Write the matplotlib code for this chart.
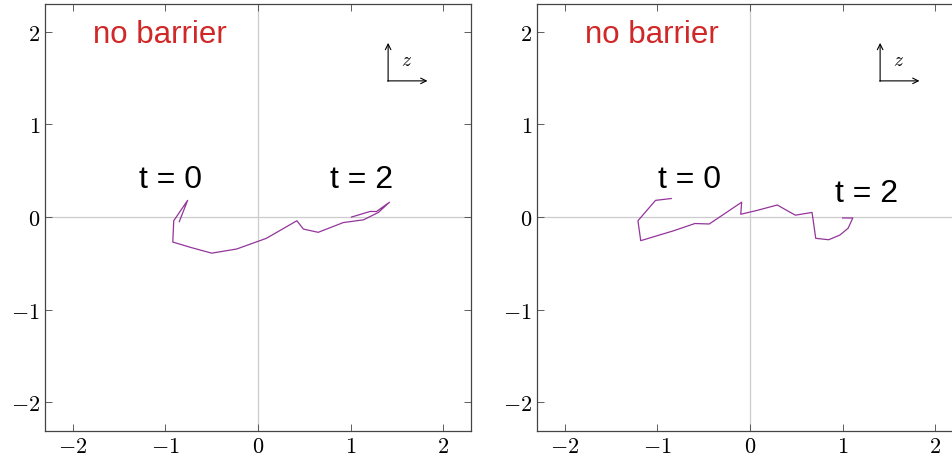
import matplotlib
matplotlib.use("Agg")
import matplotlib.pyplot as plt

plt.rcParams['mathtext.fontset'] = 'cm'

# trajectories
left_x = [-0.85, -0.76, -0.91, -0.92, -0.72, -0.50, -0.23, 0.09, 0.42, 0.49,
          0.65, 0.92, 1.14, 1.30, 1.42, 1.28, 1.21, 1.01]
left_y = [-0.05, 0.18, -0.04, -0.27, -0.33, -0.39, -0.345, -0.23, -0.04, -0.13,
          -0.165, -0.06, -0.03, 0.05, 0.16, 0.06, 0.06, 0.0]

right_x = [-0.85, -1.02, -1.21, -1.18, -0.83, -0.595, -0.44, -0.09, -0.10, 0.07,
           0.295, 0.40, 0.49, 0.67, 0.71, 0.85, 0.97, 1.06, 1.11, 1.00]
right_y = [0.20, 0.18, -0.04, -0.255, -0.15, -0.07, -0.075, 0.16, 0.03, 0.07,
           0.13, 0.07, 0.02, 0.05, -0.23, -0.245, -0.195, -0.12, -0.01, -0.01]

ticks = [-2, -1, 0, 1, 2]
tick_labels = ['$-2$', '$-1$', '$0$', '$1$', '$2$']

panels = [
    (left_x, left_y, (-0.95, 0.41), (1.12, 0.41)),
    (right_x, right_y, (-0.65, 0.41), (1.26, 0.26)),
]

fig = plt.figure(figsize=(9.53, 4.6), dpi=100)
lefts = [45 / 953, 537 / 953]

for left, (xs, ys, t0_pos, t2_pos) in zip(lefts, panels):
    ax = fig.add_axes([left, 28 / 460, 426 / 953, 427 / 460])
    ax.set_xlim(-2.3, 2.3)
    ax.set_ylim(-2.31, 2.3)

    # light axis lines through the origin
    ax.axhline(0, color='#cccccc', lw=0.9, zorder=0)
    ax.axvline(0, color='#cccccc', lw=0.9, zorder=0)

    ax.plot(xs, ys, color='#93359a', lw=0.9)

    ax.text(-1.06, 1.98, 'no barrier', color='#d02828', fontsize=22.5,
            family='Liberation Sans', ha='center', va='center')
    ax.text(t0_pos[0], t0_pos[1], 't = 0', fontsize=23, family='Liberation Sans',
            ha='center', va='center')
    ax.text(t2_pos[0], t2_pos[1], 't = 2', fontsize=23, family='Liberation Sans',
            ha='center', va='center')

    # little coordinate symbol
    ax.annotate('', xy=(1.405, 1.88), xytext=(1.405, 1.465),
                arrowprops=dict(arrowstyle='->', lw=0.8, color='black',
                                shrinkA=0, shrinkB=0))
    ax.annotate('', xy=(1.83, 1.47), xytext=(1.40, 1.47),
                arrowprops=dict(arrowstyle='->', lw=0.8, color='black',
                                shrinkA=0, shrinkB=0))
    ax.text(1.6, 1.70, '$z$', fontsize=14, ha='center', va='center')

    ax.set_xticks(ticks)
    ax.set_xticklabels(tick_labels)
    ax.set_yticks(ticks)
    ax.set_yticklabels(tick_labels)
    ax.tick_params(direction='in', top=True, right=True, length=5, width=0.6,
                   labelsize=16, color='#444444')
    for spine in ax.spines.values():
        spine.set_linewidth(0.9)
        spine.set_color('#444444')

fig.savefig('out.png', dpi=100)
